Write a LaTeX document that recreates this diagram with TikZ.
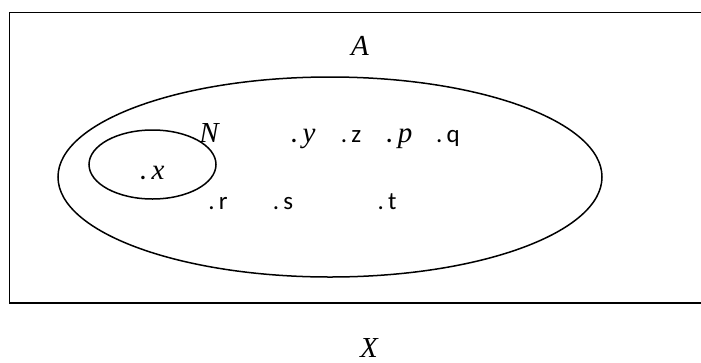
\documentclass[tikz,border=0pt]{standalone}
\usepackage{fontspec}
\usetikzlibrary{shapes.geometric}
\setmainfont{Carlito}
\newfontfamily\myserif{Liberation Serif}
\newcommand\iv[1]{{\myserif\itshape #1}}
\tikzset{
  lbl/.style={inner sep=0pt, font=\fontsize{25}{28}\selectfont},
  ilbl/.style={inner sep=0pt, font=\fontsize{29}{33}\selectfont},
  setline/.style={draw=black, line width=1.5pt},
}
\begin{document}
\begin{tikzpicture}[x=1pt,y=-1pt]
\useasboundingbox (0,0) rectangle (701,362);
\draw[line width=1.6pt] (712,12.5) -- (9.5,12.5) -- (9.5,303) -- (712,303);
\node[setline, ellipse, minimum width=544pt, minimum height=200pt, inner sep=0pt] (big) at (330,177) {};
\node[setline, ellipse, minimum width=127pt, minimum height=69pt, inner sep=0pt] (small) at (152.5,164.5) {};
\node[ilbl] (A) at (360,46) {\iv{A}};
\node[ilbl] (N) at (209,133) {\iv{N}};
\node[ilbl] (x) at (152,173) {.\,\iv{x}};
\node[ilbl, anchor=base] (y) at (303,142) {.\,\iv{y}};
\node[lbl, anchor=base] (z) at (351,142) {.\,z};
\node[ilbl, anchor=base] (p) at (399,142) {.\,\iv{p}};
\node[lbl, anchor=base] (q) at (448,142) {.\,q};
\node[lbl, anchor=base] (r) at (218,209) {.\,r};
\node[lbl, anchor=base] (s) at (283,209) {.\,s};
\node[lbl, anchor=base] (t) at (387,209) {.\,t};
\node[ilbl] (X) at (369,348) {\iv{X}};
\end{tikzpicture}
\end{document}
